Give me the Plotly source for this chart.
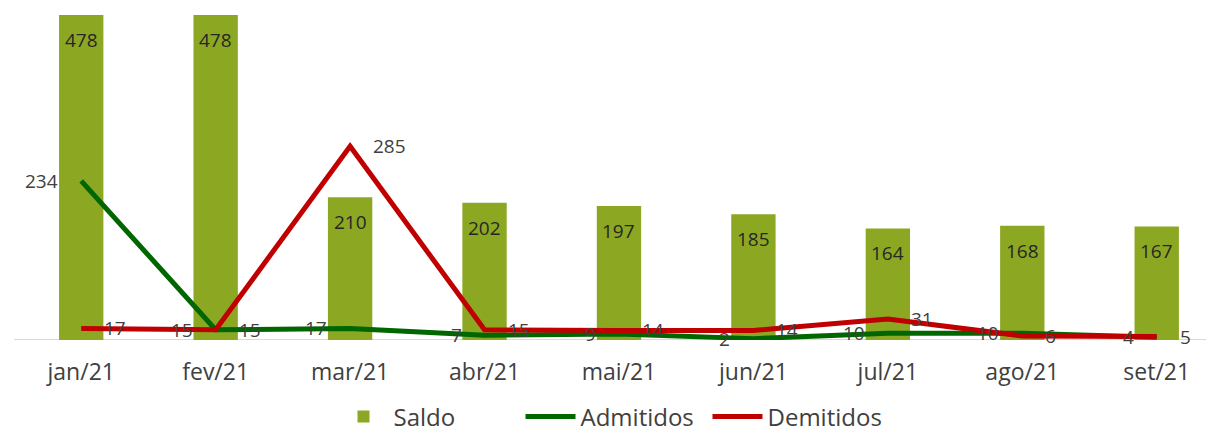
import plotly.graph_objects as go

months = ["jan/21", "fev/21", "mar/21", "abr/21", "mai/21", "jun/21", "jul/21", "ago/21", "set/21"]
saldo = [478, 478, 210, 202, 197, 185, 164, 168, 167]
admitidos = [234, 15, 17, 7, 9, 2, 10, 10, 4]
demitidos = [17, 15, 285, 15, 14, 14, 31, 6, 5]

FONT = "Open Sans"
TXT = "#404040"

fig = go.Figure()
fig.add_trace(go.Bar(x=months, y=saldo, name="Saldo", marker=dict(color="#8CA823", line=dict(width=0)),
                     width=0.33))
fig.add_trace(go.Scatter(x=months, y=admitidos, name="Admitidos", mode="lines",
                         line=dict(color="#006600", width=5)))
fig.add_trace(go.Scatter(x=months, y=demitidos, name="Demitidos", mode="lines",
                         line=dict(color="#C00000", width=5)))

ann = []
for m, v in zip(months, saldo):
    ann.append(dict(x=m, y=v, text=str(v), showarrow=False, yshift=-25,
                    font=dict(family=FONT, size=19, color="#262626")))
for m, v in zip(months, admitidos):
    ann.append(dict(x=m, y=v, text=str(v), showarrow=False, xanchor="right", xshift=-21,
                    font=dict(family=FONT, size=19, color=TXT)))
for m, v in zip(months, demitidos):
    ann.append(dict(x=m, y=v, text=str(v), showarrow=False, xanchor="left", xshift=21,
                    font=dict(family=FONT, size=19, color=TXT)))

fig.update_layout(
    width=1206, height=425,
    margin=dict(l=6, r=0, t=0, b=93, autoexpand=False),
    plot_bgcolor="white", paper_bgcolor="white",
    font=dict(family=FONT, color=TXT),
    barmode="overlay",
    showlegend=True,
    legend=dict(orientation="h", x=0.5, xanchor="center", y=-0.232, yanchor="middle",
                font=dict(family=FONT, size=24, color=TXT), itemwidth=50,
                entrywidth=122, entrywidthmode="pixels"),
    annotations=ann,
    xaxis=dict(range=[-0.5, 8.426], showgrid=False, showline=False, ticks="",
               tickfont=dict(family=FONT, size=23, color=TXT), fixedrange=True,
               automargin=False, ticklabelstandoff=16),
    yaxis=dict(range=[0, 488.2], visible=False, showgrid=False, zeroline=False, automargin=False),
    shapes=[dict(type="line", xref="paper", yref="y", x0=0, x1=1, y0=0, y1=0,
                 line=dict(color="#D9D9D9", width=2), layer="below")],
)

fig.write_html("out.html")
